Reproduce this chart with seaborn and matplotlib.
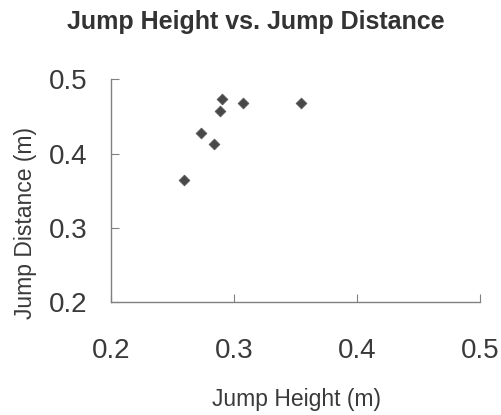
import matplotlib
matplotlib.use("Agg")
import matplotlib.pyplot as plt
import seaborn as sns
import pandas as pd

jump_height = [0.259, 0.273, 0.284, 0.2886, 0.290, 0.307, 0.3545]
jump_distance = [0.364, 0.428, 0.4135, 0.457, 0.474, 0.4676, 0.4676]
x_ticks = [0.2, 0.3, 0.4, 0.5]
y_ticks = [0.2, 0.3, 0.4, 0.5]

df = pd.DataFrame({"Jump Height (m)": jump_height, "Jump Distance (m)": jump_distance})

sns.set_style("ticks")
plt.rcParams["font.family"] = ["Liberation Sans", "DejaVu Sans"]

fig = plt.figure(figsize=(5.02, 4.15), dpi=100)
ax = fig.add_axes([0.221, 0.272, 0.735, 0.537])

sns.scatterplot(data=df, x="Jump Height (m)", y="Jump Distance (m)", ax=ax,
                marker="D", s=30, color="#484848", edgecolor="#5a5a5a", linewidth=0.6)

ax.set_xlim(0.2, 0.5)
ax.set_ylim(0.2, 0.5)
ax.set_xticks(x_ticks)
ax.set_yticks(y_ticks)
ax.set_xticklabels([f"{v:.1f}" for v in x_ticks])
ax.set_yticklabels([f"{v:.1f}" for v in y_ticks])

for side in ["top", "right"]:
    ax.spines[side].set_visible(False)
for side in ["left", "bottom"]:
    ax.spines[side].set_color("#808080")
    ax.spines[side].set_linewidth(1.0)

ax.tick_params(axis="x", direction="in", length=6, color="#808080", labelsize=20,
               labelcolor="#3a3a3a", pad=26)
ax.tick_params(axis="y", direction="in", length=6, color="#808080", labelsize=20,
               labelcolor="#3a3a3a", pad=17)

ax.set_xlabel("Jump Height (m)", fontsize=16.5, color="#3a3a3a")
ax.set_ylabel("Jump Distance (m)", fontsize=16.5, color="#3a3a3a")
ax.xaxis.set_label_coords(0.504, -0.385)
ax.yaxis.set_label_coords(-0.20, 0.357)

fig.suptitle("Jump Height vs. Jump Distance", fontsize=18, fontweight="bold",
             color="#333333", x=0.51, y=0.975)

fig.savefig("out.png", dpi=100, facecolor="white")
